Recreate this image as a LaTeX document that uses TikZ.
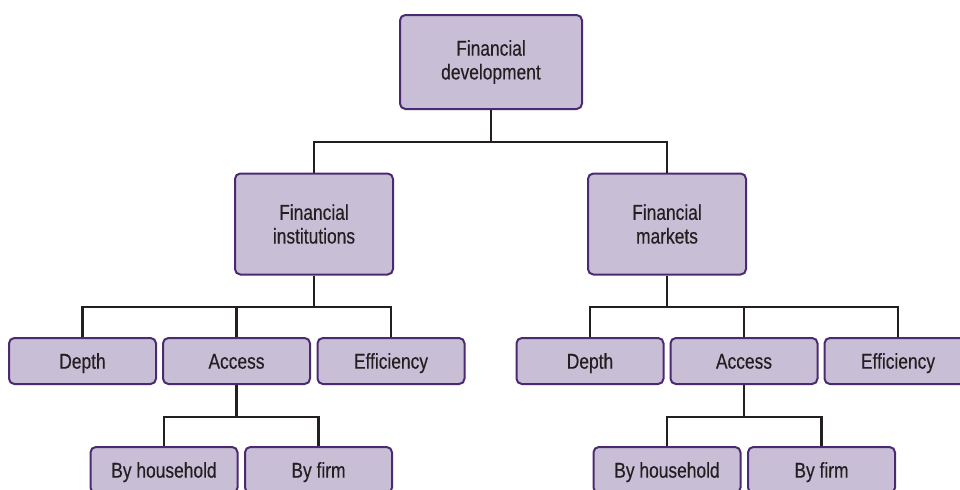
\documentclass[tikz,border=0pt]{standalone}
\usepackage{fontspec}
\setmainfont{Liberation Sans}[FakeStretch=0.81,FakeBold=0.35]
\definecolor{boxfill}{HTML}{C8BFD6}
\definecolor{boxline}{HTML}{4B2A72}
\definecolor{conn}{HTML}{231F20}
\begin{document}
\begin{tikzpicture}[x=0.75pt,y=-0.75pt,
  box/.style={draw=boxline, fill=boxfill, line width=1.5pt, rounded corners=4pt,
    text=conn, align=center, inner sep=0pt,
    font=\fontsize{16.1}{17.8}\selectfont},
  topbox/.style={box, minimum width=136.5pt, minimum height=70.5pt},
  midbox/.style={box, minimum width=118.5pt, minimum height=75.75pt},
  leafbox/.style={box, minimum width=110.25pt, minimum height=34.5pt,
    text height=11.5pt, text depth=0pt},
  conn/.style={draw=conn, line width=2pt}]
\useasboundingbox (0,0) rectangle (960,489);
\clip (0,0) rectangle (960,489);
% nodes
\node[topbox] (top) at (491,62) {Financial\\development};
\node[midbox] (fi) at (314,224) {Financial\\institutions};
\node[midbox] (fm) at (667,224) {Financial\\markets};
\node[leafbox] (fid) at (82.5,361) {Depth};
\node[leafbox] (fia) at (236.5,361) {Access};
\node[leafbox] (fie) at (391,361) {Efficiency};
\node[leafbox] (fmd) at (590,361) {Depth};
\node[leafbox] (fma) at (744,361) {Access};
\node[leafbox] (fme) at (898,361) {Efficiency};
\node[leafbox] (fih) at (164,470) {By household};
\node[leafbox] (fif) at (318.5,470) {By firm};
\node[leafbox] (fmh) at (667,470) {By household};
\node[leafbox] (fmf) at (821.5,470) {By firm};
% connectors
\draw[conn] (top.south) -- ++(0,32) coordinate (j1) -| (fi.north);
\draw[conn] (j1) -| (fm.north);
\draw[conn] (fi.south) -- ++(0,31.5) coordinate (j2) -| (fid.north);
\draw[conn] (j2) -| (fia.north);
\draw[conn] (j2) -| (fie.north);
\draw[conn] (fm.south) -- ++(0,31.5) coordinate (j3) -| (fmd.north);
\draw[conn] (j3) -| (fma.north);
\draw[conn] (j3) -| (fme.north);
\draw[conn] (fia.south) -- ++(0,32) coordinate (j4) -| (fih.north);
\draw[conn] (j4) -| (fif.north);
\draw[conn] (fma.south) -- ++(0,32) coordinate (j5) -| (fmh.north);
\draw[conn] (j5) -| (fmf.north);
\end{tikzpicture}
\end{document}
